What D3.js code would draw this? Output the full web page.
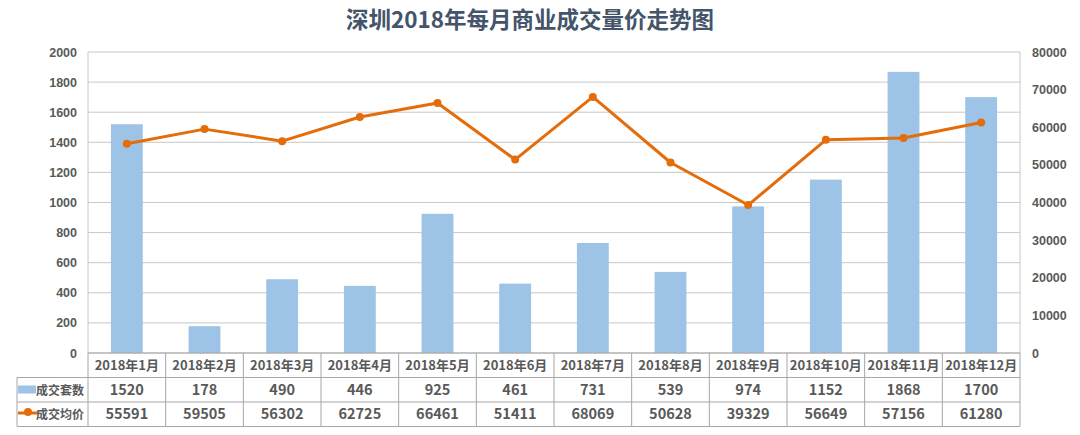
<!DOCTYPE html>
<html>
<head>
<meta charset="utf-8">
<script src="https://cdnjs.cloudflare.com/ajax/libs/d3/7.8.5/d3.min.js"></script>
<style>
  body { margin: 0; background: #fff; }
  svg { display: block; font-family: "Noto Sans CJK SC", "Noto Sans", sans-serif; }
</style>
</head>
<body>
<svg id="svg1" width="1080" height="435"></svg>
<script>
// data
var months = ['2018年1月','2018年2月','2018年3月','2018年4月','2018年5月','2018年6月',
              '2018年7月','2018年8月','2018年9月','2018年10月','2018年11月','2018年12月'];
var units = [1520, 178, 490, 446, 925, 461, 731, 539, 974, 1152, 1868, 1700];
var prices = [55591, 59505, 56302, 62725, 66461, 51411, 68069, 50628, 39329, 56649, 57156, 61280];
var leftTicks = [0, 200, 400, 600, 800, 1000, 1200, 1400, 1600, 1800, 2000];
var rightTicks = [0, 10000, 20000, 30000, 40000, 50000, 60000, 70000, 80000];
var seriesNames = ['成交套数', '成交均价'];

var svg = d3.select('svg');

var plotLeft = 88, plotRight = 1020, plotTop = 52, plotBottom = 353;
var rowH = 24.5;
var barColor = '#9dc3e6', lineColor = '#e46c0a';
var gridColor = '#c8c8c8', textColor = '#595959';

var x = d3.scaleBand().domain(months).range([plotLeft, plotRight]);
var yL = d3.scaleLinear().domain([0, 2000]).range([plotBottom, plotTop]);
var yR = d3.scaleLinear().domain([0, 80000]).range([plotBottom, plotTop]);

// title
svg.append('text')
    .attr('x', 530).attr('y', 28)
    .attr('text-anchor', 'middle')
    .attr('font-size', 22.5).attr('font-weight', 'bold')
    .attr('fill', '#44546a')
    .text('深圳2018年每月商业成交量价走势图');

// gridlines
svg.append('g').selectAll('line')
    .data(leftTicks)
    .enter().append('line')
    .attr('x1', plotLeft).attr('x2', plotRight)
    .attr('y1', function(d){ return yL(d); })
    .attr('y2', function(d){ return yL(d); })
    .attr('stroke', gridColor).attr('stroke-width', 1);

// left/right border of plot
svg.append('line').attr('x1', plotLeft).attr('x2', plotLeft).attr('y1', plotTop).attr('y2', plotBottom)
    .attr('stroke', gridColor);
svg.append('line').attr('x1', plotRight).attr('x2', plotRight).attr('y1', plotTop).attr('y2', plotBottom)
    .attr('stroke', gridColor);

// left axis labels
var axL = svg.append('g')
    .attr('transform', 'translate(' + (plotLeft - 11) + ',0)')
    .call(d3.axisLeft(yL).tickValues(leftTicks).tickFormat(d3.format('d')).tickSize(0).tickPadding(0));
axL.select('.domain').remove();
axL.selectAll('text')
    .attr('font-size', 12.5).attr('font-weight', 'bold').attr('fill', textColor)
    .style('font-family', 'Liberation Sans, Arial, sans-serif');

// right axis labels
var axR = svg.append('g')
    .attr('transform', 'translate(' + (plotRight + 12) + ',0)')
    .call(d3.axisRight(yR).tickValues(rightTicks).tickFormat(d3.format('d')).tickSize(0).tickPadding(0));
axR.select('.domain').remove();
axR.selectAll('text')
    .attr('font-size', 12.5).attr('font-weight', 'bold').attr('fill', textColor)
    .style('font-family', 'Liberation Sans, Arial, sans-serif');

// bars
var bw = x.bandwidth() * 0.41;
svg.append('g').selectAll('rect')
    .data(units)
    .enter().append('rect')
    .attr('x', function(d, i){ return x(months[i]) + (x.bandwidth() - bw) / 2; })
    .attr('y', function(d){ return yL(d); })
    .attr('width', bw)
    .attr('height', function(d){ return plotBottom - yL(d); })
    .attr('fill', barColor);

// line
var line = d3.line()
    .x(function(d, i){ return x(months[i]) + x.bandwidth() / 2; })
    .y(function(d){ return yR(d); });

svg.append('path')
    .datum(prices)
    .attr('d', line)
    .attr('fill', 'none')
    .attr('stroke', lineColor)
    .attr('stroke-width', 3)
    .attr('stroke-linejoin', 'round');

svg.append('g').selectAll('circle')
    .data(prices)
    .enter().append('circle')
    .attr('cx', function(d, i){ return x(months[i]) + x.bandwidth() / 2; })
    .attr('cy', function(d){ return yR(d); })
    .attr('r', 4)
    .attr('fill', lineColor);

// data table
var tableLeft = 17;
var table = svg.append('g').attr('stroke', '#a6a6a6').attr('stroke-width', 1);
table.append('line').attr('x1', plotLeft).attr('x2', plotRight).attr('y1', plotBottom).attr('y2', plotBottom);
[1, 2, 3].forEach(function(r){
    table.append('line')
        .attr('x1', tableLeft).attr('x2', plotRight)
        .attr('y1', plotBottom + r * rowH).attr('y2', plotBottom + r * rowH);
});
table.selectAll('line.v')
    .data(months.concat(['end']))
    .enter().append('line')
    .attr('class', 'v')
    .attr('x1', function(d, i){ return plotLeft + i * x.bandwidth(); })
    .attr('x2', function(d, i){ return plotLeft + i * x.bandwidth(); })
    .attr('y1', plotBottom).attr('y2', plotBottom + 3 * rowH);
table.append('line').attr('x1', tableLeft).attr('x2', tableLeft)
    .attr('y1', plotBottom + rowH).attr('y2', plotBottom + 3 * rowH);

// table text
var rows = [months, units, prices];
rows.forEach(function(row, r){
    svg.append('g').selectAll('text')
        .data(row)
        .enter().append('text')
        .attr('x', function(d, i){ return x(months[i]) + x.bandwidth() / 2; })
        .attr('y', plotBottom + r * rowH + rowH / 2 + 5)
        .attr('text-anchor', 'middle')
        .attr('font-size', r === 0 ? 13 : 14.5)
        .attr('font-weight', 'bold')
        .attr('fill', textColor)
        .text(function(d){ return d; });
});

// legend keys in the table
svg.append('rect')
    .attr('x', tableLeft + 1).attr('y', plotBottom + rowH + 8)
    .attr('width', 18).attr('height', 8)
    .attr('fill', barColor);
svg.append('line')
    .attr('x1', tableLeft + 1).attr('x2', tableLeft + 21)
    .attr('y1', plotBottom + 2 * rowH + 11).attr('y2', plotBottom + 2 * rowH + 11)
    .attr('stroke', lineColor).attr('stroke-width', 3);
svg.append('circle')
    .attr('cx', tableLeft + 11).attr('cy', plotBottom + 2 * rowH + 10)
    .attr('r', 4).attr('fill', lineColor);

seriesNames.forEach(function(name, i){
    svg.append('text')
        .attr('x', tableLeft + 19).attr('y', plotBottom + (i + 1) * rowH + rowH / 2 + 5)
        .attr('font-size', 12).attr('font-weight', 'bold')
        .attr('fill', textColor)
        .text(name);
});
</script>
</body>
</html>
